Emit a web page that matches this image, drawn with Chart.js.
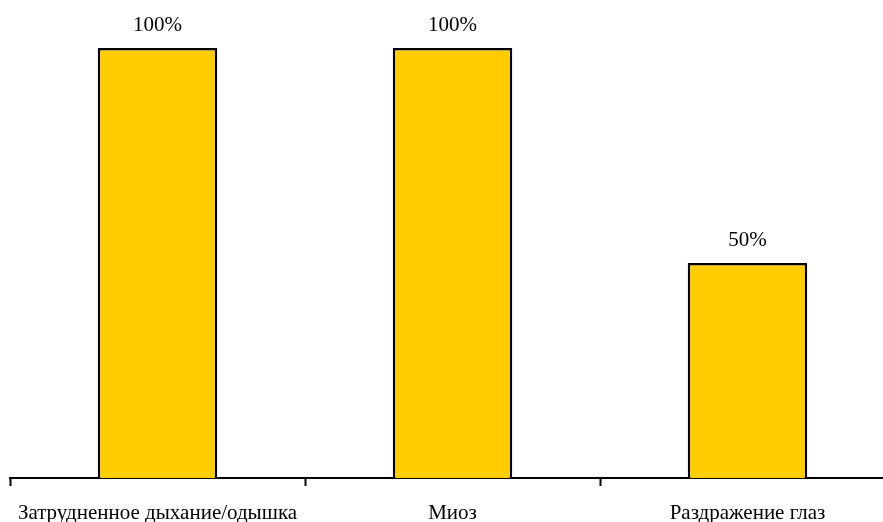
<!DOCTYPE html>
<html>
<head>
<meta charset="utf-8">
<script src="https://cdn.jsdelivr.net/npm/chart.js@4/dist/chart.umd.min.js"></script>
<style>
  html, body { margin: 0; padding: 0; background: #fff; overflow: hidden; }
  #wrap { width: 883px; height: 522px; overflow: hidden; position: relative; }
  #box { width: 895px; height: 522px; position: absolute; left: 0; top: 0; }
</style>
</head>
<body>
<div id="wrap"><div id="box"><canvas id="c"></canvas></div></div>
<script>
const categories = ['Затрудненное дыхание/одышка', 'Миоз', 'Раздражение глаз'];
const shares = [100, 100, 50];
const valueLabels = ['100%', '100%', '50%'];

const FONT = '"Liberation Serif", "Times New Roman", serif';

// Percent text above each bar, positioned from the bar element itself
const barValueText = {
  id: 'barValueText',
  afterDatasetsDraw(chart) {
    const ctx = chart.ctx;
    const meta = chart.getDatasetMeta(0);
    ctx.save();
    ctx.font = '21px ' + FONT;
    ctx.fillStyle = '#000';
    ctx.textAlign = 'center';
    ctx.textBaseline = 'alphabetic';
    meta.data.forEach((bar, i) => {
      ctx.fillText(valueLabels[i], bar.x, bar.y - 17);
    });
    ctx.restore();
  }
};

new Chart(document.getElementById('c'), {
  type: 'bar',
  data: {
    labels: categories,
    datasets: [{
      data: shares,
      backgroundColor: '#FFCC00',
      borderColor: '#000',
      borderWidth: 2.5,
      borderSkipped: 'bottom',
      categoryPercentage: 1,
      barPercentage: 0.405
    }]
  },
  options: {
    responsive: true,
    maintainAspectRatio: false,
    animation: false,
    devicePixelRatio: 1,
    layout: { padding: { top: 48, left: 10, right: 0, bottom: 0 } },
    plugins: { legend: { display: false }, tooltip: { enabled: false } },
    scales: {
      y: { display: false, min: 0, max: 100 },
      x: {
        offset: true,
        afterFit(s) { s.height = 44; },
        border: { display: true, color: '#000', width: 2 },
        grid: {
          display: true,
          drawOnChartArea: false,
          drawTicks: true,
          tickLength: 8,
          tickWidth: 2,
          tickColor: '#000',
          offset: true
        },
        ticks: {
          color: '#000',
          font: { family: FONT, size: 21 },
          padding: 15,
          maxRotation: 0,
          minRotation: 0,
          autoSkip: false
        }
      }
    }
  },
  plugins: [barValueText]
});
</script>
</body>
</html>
